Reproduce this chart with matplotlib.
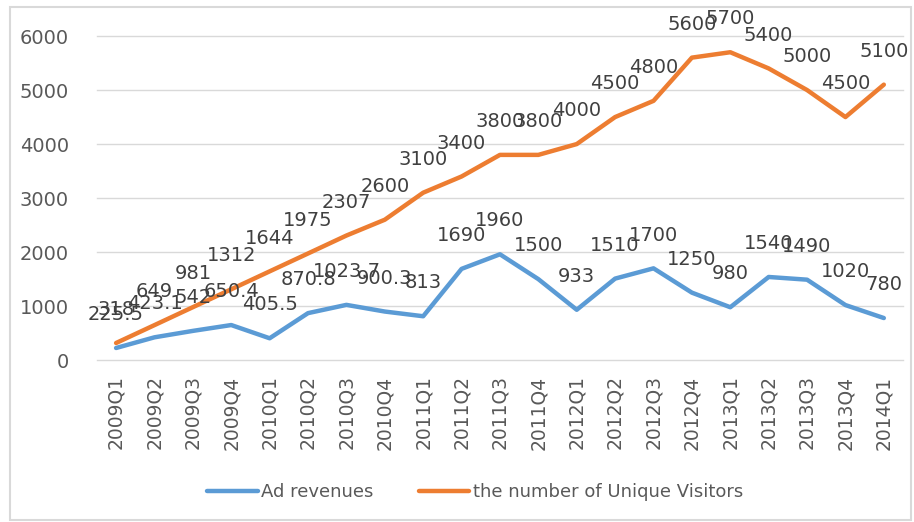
import matplotlib.pyplot as plt
from matplotlib.patches import Rectangle

quarters = ['2009Q1', '2009Q2', '2009Q3', '2009Q4', '2010Q1', '2010Q2', '2010Q3',
            '2010Q4', '2011Q1', '2011Q2', '2011Q3', '2011Q4', '2012Q1', '2012Q2',
            '2012Q3', '2012Q4', '2013Q1', '2013Q2', '2013Q3', '2013Q4', '2014Q1']
ad_revenues = [225.5, 423.1, 542, 650.4, 405.5, 870.8, 1023.7, 900.3, 813, 1690, 1960,
               1500, 933, 1510, 1700, 1250, 980, 1540, 1490, 1020, 780]
visitors = [318, 649, 981, 1312, 1644, 1975, 2307, 2600, 3100, 3400, 3800, 3800, 4000,
            4500, 4800, 5600, 5700, 5400, 5000, 4500, 5100]

txt = '#595959'
blue = '#5B9BD5'
orange = '#ED7D31'

fig = plt.figure(figsize=(9.14, 5.22), dpi=100)
fig.patches.append(Rectangle((0.011, 0.004), 0.986, 0.983, transform=fig.transFigure,
                             fill=False, edgecolor='#d9d9d9', linewidth=1.5))
ax = fig.add_axes([0.106, 0.310, 0.882, 0.621])

x = list(range(len(quarters)))
ax.plot(x, ad_revenues, color=blue, lw=3.2, solid_capstyle='round', label='Ad revenues')
ax.plot(x, visitors, color=orange, lw=3.2, solid_capstyle='round',
        label='the number of Unique Visitors')

# data labels above points, like excel
for vals in [ad_revenues, visitors]:
    for xi, v in zip(x, vals):
        ax.annotate('%g' % v, (xi, v), xytext=(0, 24), textcoords='offset points',
                    ha='center', va='center', fontsize=14, color='#404040')

ax.set_xlim(-0.5, len(quarters) - 0.5)
ax.set_ylim(0, 6000)
ax.set_yticks(range(0, 6001, 1000))
ax.set_xticks(x)
ax.set_xticklabels(quarters, rotation=90)
ax.tick_params(axis='y', length=0, pad=20, labelsize=14, labelcolor=txt)
ax.tick_params(axis='x', length=0, pad=11, labelsize=13.5, labelcolor=txt)
ax.grid(axis='y', color='#d9d9d9', lw=1)
for gl in ax.get_ygridlines():
    gl.set_clip_on(False)
ax.set_axisbelow(True)
for s in ax.spines.values():
    s.set_visible(False)

fig.legend(loc='center', bbox_to_anchor=(0.52, 0.057), ncol=2, frameon=False,
           fontsize=13, labelcolor=txt, handlelength=2.8, handletextpad=0.2,
           columnspacing=2.5)

fig.savefig('out.png', dpi=100)
